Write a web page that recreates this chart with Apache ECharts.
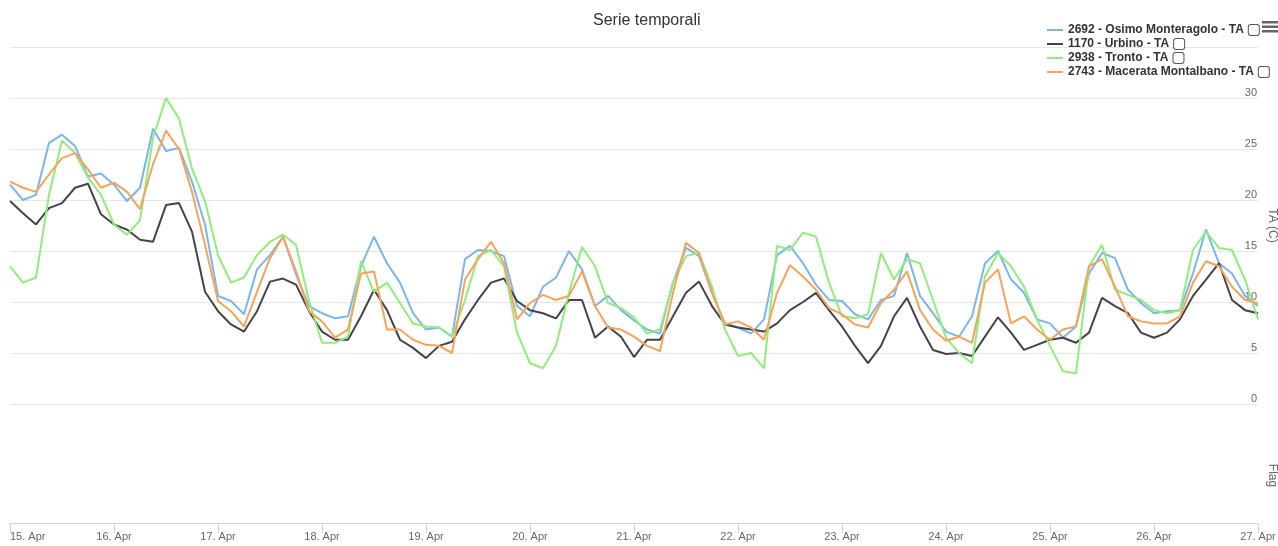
<!DOCTYPE html>
<html>
<head>
<meta charset="utf-8">
<script src="https://cdn.jsdelivr.net/npm/echarts@6/dist/echarts.min.js"></script>
<style>
html,body{margin:0;padding:0;background:#fff;}
#chart{width:1278px;height:546px;}
</style>
</head>
<body>
<div id="chart"></div>
<script>
// ---- data (3-hourly readings, hours since 15 Apr 00:00) ----
const stepHours = 3;
const dayLabels = ['15. Apr','16. Apr','17. Apr','18. Apr','19. Apr','20. Apr','21. Apr','22. Apr','23. Apr','24. Apr','25. Apr','26. Apr','27. Apr'];
const seriesNames = ['2692 - Osimo Monteragolo - TA','1170 - Urbino - TA','2938 - Tronto - TA','2743 - Macerata Montalbano - TA'];
const seriesColors = ['#7cb5ec','#434348','#90ed7d','#f7a35c'];

const osimo = [21.5,20.0,20.5,25.6,26.4,25.3,22.3,22.6,21.5,19.9,21.2,27.0,24.8,25.1,21.8,17.6,10.6,10.1,8.8,13.2,14.6,16.4,12.7,9.6,8.9,
  8.4,8.6,13.5,16.4,13.8,11.9,8.9,7.3,7.5,6.6,14.2,15.1,15.0,14.5,9.6,8.6,11.5,12.4,15.0,13.2,9.6,10.6,9.2,8.2,
  7.3,6.9,11.9,15.3,14.5,10.9,7.9,7.5,6.9,8.3,14.6,15.5,13.8,11.7,10.2,10.1,8.8,8.3,10.2,10.6,14.8,10.6,8.9,7.1,
  6.6,8.6,13.8,15.0,12.2,10.9,8.3,7.9,6.5,7.6,12.8,14.8,14.3,11.2,9.9,8.9,9.1,9.2,12.8,17.1,13.8,12.8,10.6,9.6];

const urbino = [19.9,18.7,17.6,19.2,19.7,21.2,21.6,18.6,17.6,17.1,16.1,15.9,19.5,19.7,16.9,11.0,9.1,7.8,7.1,9.1,12.0,12.3,11.7,9.1,7.1,
  6.3,6.3,8.6,11.2,9.2,6.3,5.5,4.5,5.7,6.1,8.3,10.2,11.9,12.3,10.1,9.2,8.9,8.4,10.2,10.2,6.5,7.6,6.6,4.6,
  6.3,6.3,8.6,10.9,12.0,9.6,7.8,7.5,7.3,7.1,7.9,9.2,10.0,10.9,9.2,7.6,5.7,4.0,5.7,8.6,10.4,7.6,5.3,4.9,
  5.0,4.7,6.6,8.5,7.0,5.3,5.8,6.3,6.5,6.0,7.0,10.4,9.6,8.9,7.0,6.5,7.0,8.3,10.6,12.2,13.8,10.2,9.2,8.9];

const tronto = [13.5,11.9,12.4,20.5,25.8,24.6,22.2,20.5,17.6,16.6,18.0,26.1,30.0,28.0,23.1,19.9,14.6,11.9,12.4,14.6,15.9,16.6,15.6,10.1,6.0,
  6.0,6.6,14.0,11.0,11.9,9.9,7.9,7.6,7.5,6.6,10.2,14.5,15.1,13.5,7.0,4.0,3.5,5.7,10.9,15.4,13.5,9.9,9.4,8.5,
  6.9,7.3,11.9,14.5,14.8,11.5,7.3,4.7,5.0,3.5,15.5,15.1,16.8,16.4,11.9,8.6,8.4,8.8,14.8,12.2,14.2,13.8,10.2,6.5,
  5.0,4.0,12.5,14.8,13.5,11.5,8.3,5.7,3.2,3.0,13.5,15.6,11.2,10.7,10.2,9.2,8.9,9.2,15.1,16.9,15.3,15.1,12.2,8.3];

const macerata = [21.8,21.2,20.8,22.5,24.1,24.6,23.0,21.2,21.7,20.8,19.1,23.5,26.8,25.0,20.8,15.6,10.1,9.1,7.6,11.0,14.3,16.4,13.0,9.1,8.1,
  6.5,7.3,12.8,13.0,7.3,7.3,6.3,5.8,5.7,5.0,12.2,14.2,15.9,13.8,8.3,9.9,10.7,10.2,10.6,13.0,9.6,7.5,7.3,6.6,
  5.7,5.2,10.9,15.8,14.8,10.9,7.8,8.1,7.5,6.3,10.9,13.6,12.5,11.2,9.4,8.8,7.8,7.5,9.9,11.2,13.0,9.2,7.3,6.2,
  6.6,6.0,11.9,13.2,7.9,8.6,7.3,6.3,7.3,7.6,13.5,14.2,11.5,8.6,8.1,7.9,7.9,8.6,11.9,14.0,13.5,11.5,10.2,9.9];

const allValues = [osimo, urbino, tronto, macerata];

// ---- chart ----
const FONT = 'Liberation Sans, Arial, Helvetica, sans-serif';
const chart = echarts.init(document.getElementById('chart'), null, {renderer: 'canvas'});

const series = allValues.map((vals, k) => ({
  name: seriesNames[k],
  type: 'line',
  xAxisIndex: 0,
  yAxisIndex: 0,
  showSymbol: false,
  symbol: 'none',
  color: seriesColors[k],
  lineStyle: {width: 2, color: seriesColors[k]},
  data: vals.map((v, i) => [i * stepHours, v]),
  z: 2 + k
}));

const option = {
  animation: false,
  textStyle: {fontFamily: FONT},
  title: {
    text: 'Serie temporali',
    left: 593,
    top: 13,
    padding: 0,
    textStyle: {fontFamily: FONT, fontSize: 16, fontWeight: 'normal', color: '#333333'}
  },
  legend: {
    orient: 'vertical',
    left: 1047,
    top: 24,
    padding: 0,
    itemWidth: 16,
    itemHeight: 2,
    itemGap: 2,
    icon: 'rect',
    data: seriesNames,
    formatter: name => '{n|' + name + '}{s|}{b|}',
    textStyle: {
      fontFamily: FONT,
      rich: {
        n: {fontFamily: FONT, fontSize: 12, fontWeight: 'bold', color: '#333333', lineHeight: 12},
        s: {width: 5, height: 10, lineHeight: 12},
        b: {width: 10, height: 10, borderWidth: 1, borderColor: '#555', borderRadius: 2, backgroundColor: '#fff', lineHeight: 12}
      }
    }
  },
  graphic: [
    {type: 'rect', left: 1262, top: 21, shape: {width: 16, height: 2.5}, style: {fill: '#666'}},
    {type: 'rect', left: 1262, top: 25.5, shape: {width: 16, height: 2.5}, style: {fill: '#666'}},
    {type: 'rect', left: 1262, top: 30, shape: {width: 16, height: 2.5}, style: {fill: '#666'}}
  ],
  grid: [
    {left: 10, right: 20, top: 47, height: 357, outerBoundsMode: 'none', containLabel: false},
    {left: 10, right: 20, top: 428, bottom: 23, outerBoundsMode: 'none', containLabel: false}
  ],
  xAxis: [
    {type: 'value', gridIndex: 0, min: 0, max: 288, interval: 24, show: false, splitLine: {show: false}},
    {type: 'value', gridIndex: 1, min: 0, max: 288, interval: 24,
      axisLine: {show: true, onZero: false, lineStyle: {color: '#ccd6eb', width: 1}},
      axisTick: {show: true, length: 10, lineStyle: {color: '#ccd6eb'}},
      splitLine: {show: false},
      axisLabel: {
        color: '#666666', fontSize: 11, fontFamily: FONT, margin: 8,
        alignMinLabel: 'left',
        formatter: v => dayLabels[Math.round(v / 24)] || ''
      }
    }
  ],
  yAxis: [
    {type: 'value', gridIndex: 0, position: 'right', min: 0, max: 35, interval: 5,
      name: 'TA (C)', nameLocation: 'middle', nameRotate: -90, nameGap: 8, nameMoveOverlap: false,
      nameTextStyle: {color: '#666666', fontSize: 12, fontFamily: FONT},
      axisLine: {show: false}, axisTick: {show: false},
      splitLine: {show: true, lineStyle: {color: '#e6e6e6', width: 1}},
      axisLabel: {inside: true, showMaxLabel: false, align: 'right', verticalAlign: 'bottom', margin: 1,
        color: '#666666', fontSize: 11, fontFamily: FONT}
    },
    {type: 'value', gridIndex: 1, position: 'right', min: 0, max: 1,
      name: 'Flag', nameLocation: 'middle', nameRotate: -90, nameGap: 8, nameMoveOverlap: false,
      nameTextStyle: {color: '#666666', fontSize: 12, fontFamily: FONT},
      axisLine: {show: false}, axisTick: {show: false},
      splitLine: {show: false}, axisLabel: {show: false}
    }
  ],
  series: series
};
chart.setOption(option);
</script>
</body>
</html>
